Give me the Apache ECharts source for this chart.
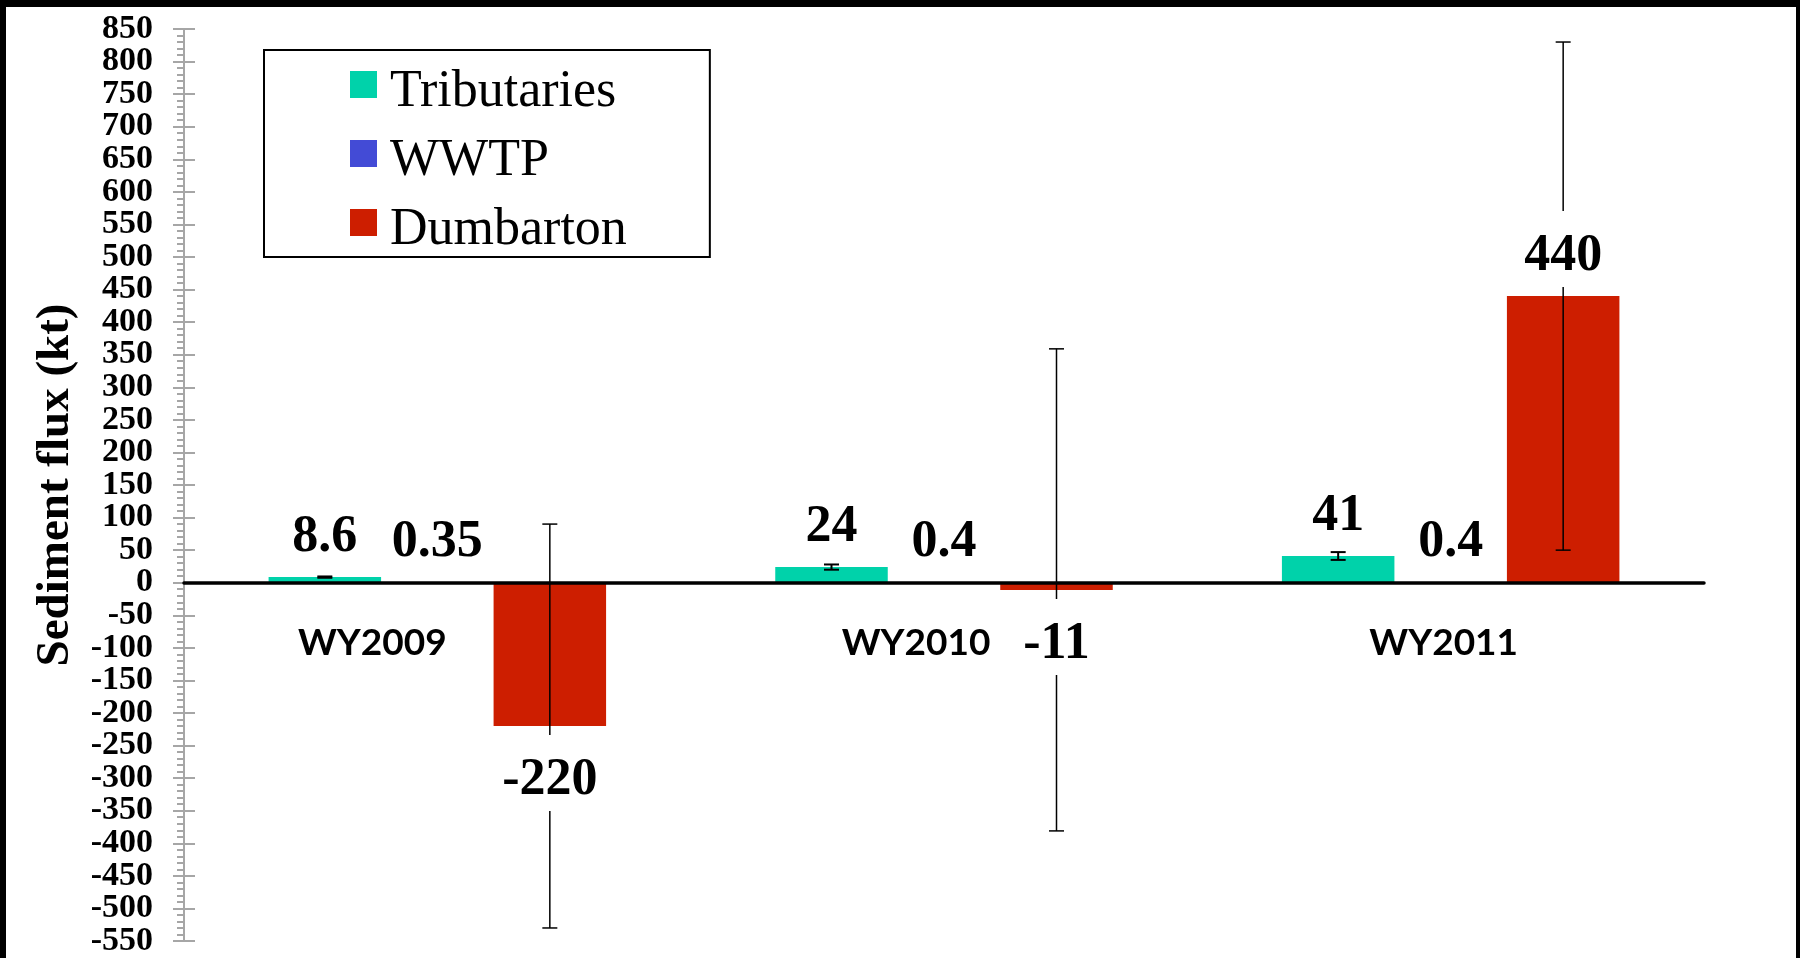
<!DOCTYPE html>
<html><head><meta charset="utf-8">
<script src="https://cdn.jsdelivr.net/npm/echarts@6/dist/echarts.min.js"></script>
<style>
html,body{margin:0;padding:0;width:1800px;height:958px;background:#000;overflow:hidden;}
#frame{position:absolute;left:6px;top:7px;width:1790px;height:951px;background:#fff;}
#chart{position:absolute;left:0;top:0;width:1800px;height:958px;}
</style></head><body><div id="frame"></div><div id="chart"></div>
<script>
// ---- data ----
const categories = ['WY2009', 'WY2010', 'WY2011'];
const seriesNames = ['Tributaries', 'WWTP', 'Dumbarton'];
const tributaries = [8.6, 24, 41];
const tributariesErr = [1, 4, 6];
const wwtp = [0.35, 0.4, 0.4];
const wwtpErr = [0, 0, 0];
const dumbarton = [-220, -11, 440];
const dumbartonErr = [310, 370, 390];
const yMin = -550, yMax = 850, yInterval = 50;

// ---- style ----
const colors = ['#00D2AA', '#434BD6', '#CD1E00'];
const BAR_W = 112.5;
const serif = '"Liberation Serif", "Times New Roman", serif';
const gray = '#a6a6a6';
const catLabelShift = [-65, -28, -7]; // visual horizontal offset of category labels (px)

function overlay(values, errs, slot, capW, lw) {
  return {
    type: 'custom', coordinateSystem: 'cartesian2d', z: 5, silent: true,
    data: values.map((v, i) => [i, v, errs[i]]),
    encode: { x: 0, y: 1 },
    renderItem: function (params, api) {
      const ci = api.value(0), v = api.value(1), e = api.value(2);
      const base = api.coord([ci, v]);
      const x = base[0] + slot * BAR_W;
      const children = [];
      if (e > 0) {
        const top = api.coord([ci, v + e])[1];
        const bot = api.coord([ci, v - e])[1];
        const st = { stroke: '#000', lineWidth: lw };
        children.push({ type: 'line', shape: { x1: x, y1: top, x2: x, y2: bot }, style: st });
        children.push({ type: 'line', shape: { x1: x - capW / 2, y1: top, x2: x + capW / 2, y2: top }, style: st });
        children.push({ type: 'line', shape: { x1: x - capW / 2, y1: bot, x2: x + capW / 2, y2: bot }, style: st });
      }
      const pos = v >= 0;
      children.push({
        type: 'text', z2: 10,
        x: x, y: pos ? base[1] - 9 : base[1] + 9,
        style: {
          text: String(v), align: 'center', verticalAlign: pos ? 'bottom' : 'top',
          font: 'bold 52px ' + serif, fill: '#000',
          backgroundColor: '#fff', padding: [19.5, 6, 4.5, 6], lineHeight: 52
        }
      });
      return { type: 'group', children: children };
    }
  };
}

// category labels drawn next to the zero line
const categoryLabels = {
  type: 'custom', coordinateSystem: 'cartesian2d', z: 6, silent: true,
  data: categories.map((c, i) => [i, 0]),
  encode: { x: 0, y: 1 },
  renderItem: function (params, api) {
    const ci = api.value(0);
    const p = api.coord([ci, 0]);
    return {
      type: 'text', x: p[0] + catLabelShift[params.dataIndex], y: p[1] + 60,
      style: {
        text: categories[params.dataIndex], align: 'center', verticalAlign: 'middle',
        font: 'bold 37px Lato', fill: '#000'
      }
    };
  }
};

const yLabelStyle = { margin: 31, fontFamily: serif, fontWeight: 'bold', fontSize: 34, color: '#000', lineHeight: 16 };

const chart = echarts.init(document.getElementById('chart'), null, { renderer: 'canvas' });
chart.setOption({
  animation: false,
  backgroundColor: 'transparent',
  grid: { left: 184, right: 96, top: 29, bottom: 17, containLabel: false, outerBoundsMode: 'none' },
  legend: {
    data: seriesNames, orient: 'vertical', left: 264, top: 50,
    padding: [0.5, 83, 0.5, 86], itemGap: 1, itemWidth: 27, itemHeight: 27, icon: 'rect',
    borderColor: '#000', borderWidth: 2, backgroundColor: '#fff', selectedMode: false,
    formatter: '{a|{name}}',
    textStyle: {
      fontFamily: serif, fontSize: 52, color: '#000',
      rich: { a: { fontFamily: serif, fontSize: 52, color: '#000', lineHeight: 52, padding: [16, 0, 0, 8] } }
    }
  },
  xAxis: {
    type: 'category', z: 4, data: categories,
    axisLine: { onZero: true, lineStyle: { color: '#000', width: 3.5 } },
    axisTick: { show: false },
    splitLine: { show: false },
    axisLabel: { show: false }
  },
  yAxis: [{
    type: 'value', min: yMin, max: yMax, interval: yInterval, position: 'left',
    axisLine: { show: true, onZero: false, lineStyle: { color: gray, width: 2 } },
    axisTick: { show: true, length: 11, lineStyle: { color: gray, width: 2 } },
    minorTick: { show: true, splitNumber: 5, length: 7, lineStyle: { color: gray, width: 2 } },
    splitLine: { show: false },
    axisLabel: Object.assign({ showMinLabel: false, showMaxLabel: false }, yLabelStyle),
    name: 'Sediment flux (kt)', nameLocation: 'middle', nameGap: 104, nameRotate: 90,
    nameTextStyle: { fontFamily: serif, fontWeight: 'bold', fontSize: 47, color: '#000', lineHeight: 47 }
  }, {
    type: 'value', min: yMin, max: yMax, interval: yInterval, position: 'left', offset: 0,
    axisLine: { show: false },
    axisTick: { show: true, inside: true, length: 11, lineStyle: { color: gray, width: 2 } },
    axisLabel: Object.assign({
      showMinLabel: true, showMaxLabel: true,
      formatter: v => (v === yMin || v === yMax) ? String(v) : ''
    }, yLabelStyle),
    splitLine: { show: false }
  }],
  series: [
    { name: seriesNames[0], type: 'bar', data: tributaries, barWidth: BAR_W, barGap: '0%', z: 2, itemStyle: { color: colors[0] } },
    { name: seriesNames[1], type: 'bar', data: wwtp, barWidth: BAR_W, barGap: '0%', z: 2, itemStyle: { color: colors[1] } },
    { name: seriesNames[2], type: 'bar', data: dumbarton, barWidth: BAR_W, barGap: '0%', z: 2, itemStyle: { color: colors[2] } },
    overlay(tributaries, tributariesErr, -1, 15, 2),
    overlay(wwtp, wwtpErr, 0, 15, 2),
    overlay(dumbarton, dumbartonErr, 1, 15, 1.5),
    categoryLabels
  ]
});
</script></body></html>
